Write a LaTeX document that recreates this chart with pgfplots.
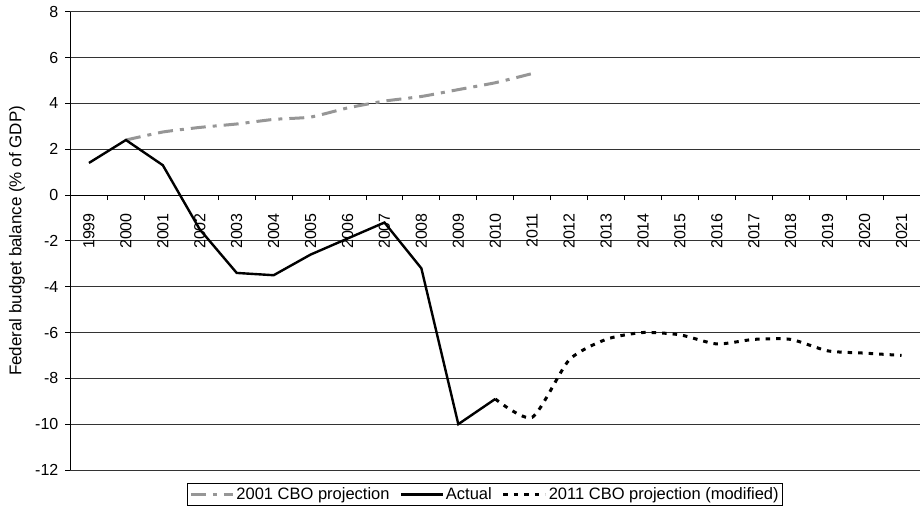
\documentclass[border=0pt]{standalone}
\usepackage{fontspec}
\setmainfont{Liberation Sans}
\usepackage{pgfplots}
\pgfplotsset{compat=1.18}
\definecolor{projgray}{RGB}{150,150,150}
\begin{document}
\fontsize{16bp}{19bp}\selectfont
\begin{tikzpicture}
\useasboundingbox (-70.5bp,-39bp) rectangle (849.5bp,470bp);
\begin{axis}[
  at={(0,0)}, anchor=south west,
  scale only axis, width=849.5bp, height=458.3bp,
  xmin=-0.5, xmax=22.5, ymin=-12, ymax=8,
  axis x line*=middle, axis y line*=left,
  axis line style={black, line width=0.9bp},
  hide obscured y ticks=false, hide obscured x ticks=false,
  xtick={0,...,22},
  xticklabels={1999,2000,2001,2002,2003,2004,2005,2006,2007,2008,2009,2010,2011,2012,2013,2014,2015,2016,2017,2018,2019,2020,2021},
  major x tick style={draw=none},
  minor xtick={-0.5,0.5,...,22.5},
  minor tick style={black, line width=0.9bp},
  ytick={-12,-10,...,8},
  yticklabels={-12,-10,-8,-6,-4,-2,0,2,4,6,8},
  major tick style={black, line width=0.9bp},
  tick align=outside,
  major tick length=5bp, minor tick length=5bp,
  xticklabel style={font=\fontsize{16bp}{19bp}\selectfont, rotate=90, anchor=east, inner sep=0pt, xshift=-13bp},
  yticklabel style={font=\fontsize{16bp}{19bp}\selectfont, inner sep=0pt, xshift=-7bp},
  ymajorgrids,
  grid style={black!80, line width=0.9bp},
  ylabel={Federal budget balance (\% of GDP)},
  ylabel style={font=\fontsize{17bp}{19bp}\selectfont, at={([xshift=-53.5bp]axis description cs:0,0.5)}, anchor=center},
  legend columns=3,
  legend style={at={(0.488,-0.0284)}, anchor=north, draw=black, line width=0.8bp,
    font=\fontsize{16.5bp}{19bp}\selectfont, inner sep=2bp,
    /tikz/every even column/.append style={column sep=8bp}},
  legend image code/.code={\draw[#1] (0bp,0bp) -- (42bp,0bp);},
]
\addplot[projgray, line width=3bp, dash pattern=on 15bp off 7bp on 4bp off 7bp, smooth, tension=0.3] coordinates {
(1,2.4)(2,2.75)(3,2.95)(4,3.1)(5,3.3)(6,3.4)(7,3.8)(8,4.1)(9,4.3)(10,4.6)(11,4.9)(12,5.3)};
\addlegendentry{2001 CBO projection}
\addplot[black, line width=2.4bp] coordinates {
(0,1.4)(1,2.4)(2,1.3)(3,-1.5)(4,-3.4)(5,-3.5)(6,-2.6)(7,-1.9)(8,-1.2)(9,-3.2)(10,-10.0)(11,-8.9)};
\addlegendentry{Actual}
\addplot[black, line width=3bp, dash pattern=on 4.5bp off 6bp, smooth, tension=0.4] coordinates {
(11,-8.9)(12,-9.7)(13,-7.2)(14,-6.3)(15,-6.0)(16,-6.1)(17,-6.5)(18,-6.3)(19,-6.3)(20,-6.8)(21,-6.9)(22,-7.0)};
\addlegendentry{2011 CBO projection (modified)}
\end{axis}
\end{tikzpicture}
\end{document}
